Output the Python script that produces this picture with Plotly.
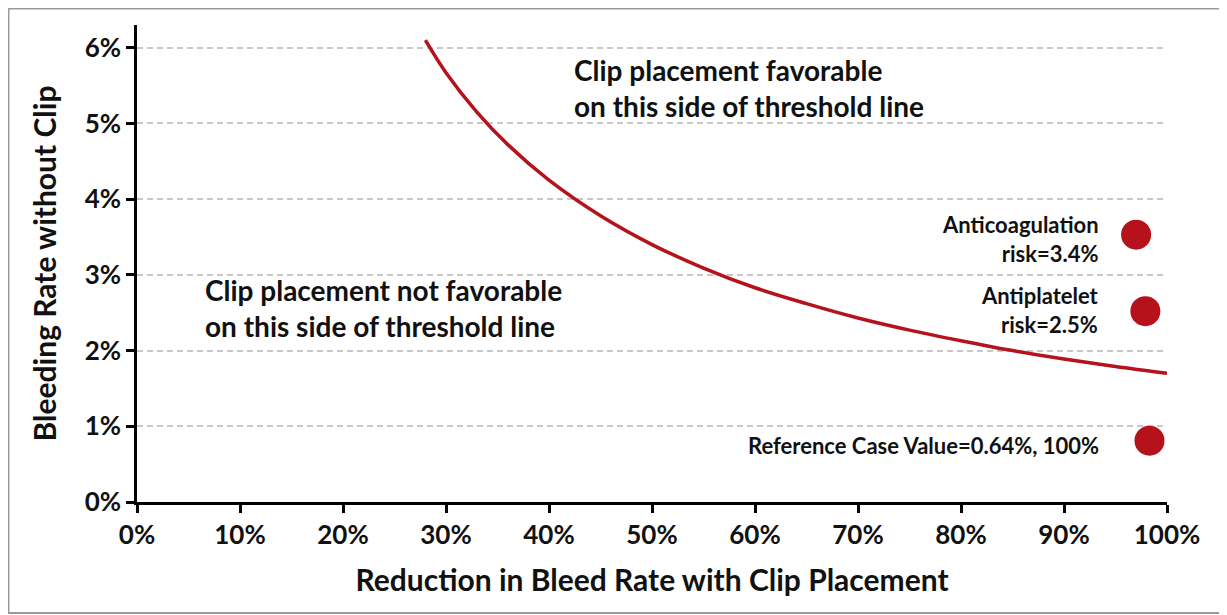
import plotly.graph_objects as go

# Threshold curve
curve_x = [28, 30, 33, 36, 40, 45, 50, 55, 60, 65, 70, 75, 80, 85, 90, 95, 100]
curve_y = [6.1, 5.67, 5.15, 4.72, 4.25, 3.78, 3.4, 3.09, 2.83, 2.62, 2.43, 2.27, 2.13, 2.0, 1.89, 1.79, 1.7]

# Case points
point_x = [97.0, 97.9, 98.3]
point_y = [3.53, 2.52, 0.81]

# Point labels
label_text = ["Anticoagulation<br>risk=3.4%", "Antiplatelet<br>risk=2.5%", "Reference Case Value=0.64%, 100%"]
label_y = [3.48, 2.53, 0.74]

# Region notes
note_text = ["Clip placement favorable<br>on this side of threshold line",
             "Clip placement not favorable<br>on this side of threshold line"]
note_x = [42.2, 6.4]
note_y = [5.47, 2.56]

x_ticks = [0, 10, 20, 30, 40, 50, 60, 70, 80, 90, 100]
x_tick_text = [f"<b>{v}%</b>" for v in x_ticks]
y_ticks = [0, 1, 2, 3, 4, 5, 6]
y_tick_text = [f"<b>{v}%</b>" for v in y_ticks]

RED = "#B5121B"
INK = "#111111"
FONT = "Lato"

fig = go.Figure()
fig.add_trace(go.Scatter(x=curve_x, y=curve_y, mode="lines", line=dict(color=RED, width=3.5, shape="spline"),
                         hoverinfo="skip", showlegend=False))
fig.add_trace(go.Scatter(x=point_x, y=point_y, mode="markers", marker=dict(color=RED, size=30),
                         showlegend=False))

for t, ly in zip(label_text, label_y):
    fig.add_annotation(x=93.6, y=ly, text=f"<b>{t}</b>", showarrow=False, xanchor="right", yanchor="middle",
                       align="right", font=dict(family=FONT, size=22, color=INK))

for t, nx, ny in zip(note_text, note_x, note_y):
    fig.add_annotation(x=nx, y=ny, text=f"<b>{t}</b>", showarrow=False, xanchor="left", yanchor="middle",
                       align="left", font=dict(family=FONT, size=28, color=INK))

# outer frame
fig.add_shape(type="rect", xref="paper", yref="paper", x0=-0.1248, x1=1.0563, y0=-0.2327, y1=1.0346,
              line=dict(color="#999999", width=2), layer="below")

fig.update_layout(
    width=1227, height=615,
    margin=dict(l=129, r=68, t=17, b=121),
    plot_bgcolor="white", paper_bgcolor="white",
    font=dict(family=FONT, color=INK),
    xaxis=dict(range=[0, 100], tickvals=x_ticks, ticktext=x_tick_text, showgrid=False, zeroline=False,
               automargin=False,
               showline=True, linecolor="black", linewidth=2.5, ticks="outside", ticklen=8, tickwidth=2.5,
               tickcolor="black", tickfont=dict(family=FONT, size=26, color=INK),
               title=dict(text="<b>Reduction in Bleed Rate with Clip Placement</b>", standoff=22,
                          font=dict(family=FONT, size=30, color=INK))),
    yaxis=dict(range=[0, 6.3], tickvals=y_ticks, ticktext=y_tick_text, showgrid=True, gridcolor="#c8c8c8",
               griddash="6px,4px", gridwidth=1.5, zeroline=False, automargin=False,
               showline=True, linecolor="black", linewidth=2.5, ticks="outside", ticklen=8, tickwidth=2.5,
               tickcolor="black", tickfont=dict(family=FONT, size=26, color=INK),
               title=dict(text="<b>Bleeding Rate without Clip</b>", standoff=20,
                          font=dict(family=FONT, size=30, color=INK))),
)

fig.write_html("out.html")
